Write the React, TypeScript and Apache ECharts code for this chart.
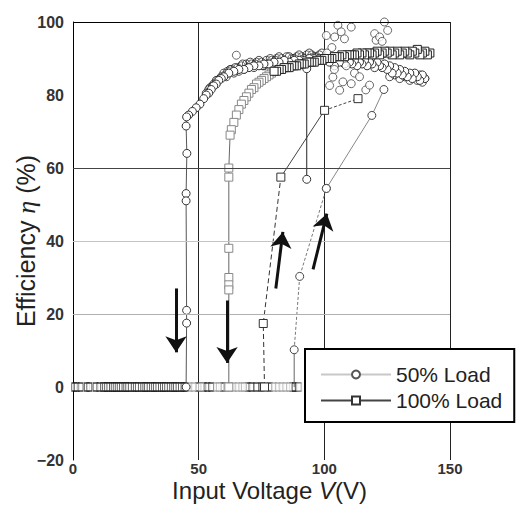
import React, { useEffect, useRef } from "react";
import * as echarts from "echarts";

// ---------- data ----------
const xTicks = [0, 50, 100, 150];
const yTicks = [-20, 0, 20, 40, 60, 80, 100];

// zero-efficiency strip (barcode-like row at eta = 0)
const zeroDarkV = [0.5, 1.5, 3, 5.5, 6.5, 9, 10.5, 12, 12.8, 13.6, 14.5, 15.5, 16.2, 17, 17.8, 18.6, 19.5, 20.5, 21.2, 22, 23, 24.2, 25, 25.8, 27, 28, 28.8, 29.5, 30.5, 31.5, 32.3, 33, 34, 35, 35.8, 36.6, 37.5, 38.5, 39.5, 40.3, 41, 42, 43, 44, 44.8, 49.8, 52, 53.5, 55, 59.6, 69.5, 71, 73, 75, 78.3, 87.2, 88.2, 89.5];
const zeroLightV = [46.5, 48, 51, 57, 58, 61, 62.5, 64, 65.5, 67, 68, 76.5, 80, 81.5, 83, 84.5, 86, 90];

// 50% load, decreasing input voltage
const down50 = [
  [140, 84.5], [139, 85.5], [138, 84], [137, 85], [136, 86], [135, 84.5], [134, 86], [133, 85], [132, 86.5], [131, 85.5],
  [130, 87], [129, 86], [128, 87.5], [127, 86], [126, 88], [125, 87], [124, 88.5], [123, 87.5], [122, 88], [121, 89],
  [120, 87.5], [119, 88.5], [118, 89], [117, 88], [116, 89.5], [115, 88.5], [114, 89], [113, 88], [112, 89.5], [111, 88.5],
  [110, 89], [108, 88.5], [106, 89], [104, 88], [102, 89], [100, 89.5], [98, 90], [96, 90], [94, 90], [92, 89.5],
  [90, 89.5], [88, 89.5], [86, 89], [84, 89.5], [82, 89], [80, 89], [78, 88.5], [76, 88.5], [74, 88], [72, 88],
  [70, 87.5], [68, 87], [66, 87], [64, 86.5], [62, 86], [60, 85], [59, 84.5], [58, 84], [57, 83], [56, 82.5],
  [55, 81.5], [54, 80.5], [53, 80], [52, 79], [50.5, 77.5], [49, 76.5], [47.5, 75.5], [46, 74.5], [45.2, 74], [45, 71.5],
  [45.3, 64], [45, 53], [45, 51], [45.2, 21], [45.2, 17.5], [45, 0]
];
const cloud50 = [
  [53, 80.5], [54.5, 82], [56, 83], [57.5, 84], [59, 85], [60.5, 85.5], [61.5, 86.5], [63, 87], [64, 86], [65.5, 87.5],
  [67, 88], [68, 87], [69, 88.5], [71, 88.5], [72, 87.5], [73, 89], [75, 89], [76, 88], [77, 89.5], [79, 89.5],
  [80, 88.5], [81, 90], [83, 90], [85, 90.5], [87, 90], [89, 90.5], [91, 90.5], [93, 91], [95, 91], [97, 90.5],
  [99, 91.5], [126, 85], [128, 85.5], [130, 84.5], [132, 85], [134, 84], [136, 85], [137, 84], [138, 85.5], [139, 83.5], [140, 84.5],
  [54, 81.5], [55.5, 82.5], [57, 84], [58.5, 84.5], [60, 86], [61, 85], [62.5, 87], [64.5, 87.5], [66, 86.5], [67.5, 88.5],
  [69.5, 87.5], [70.5, 89], [72.5, 88.5], [74, 89.5], [75.5, 88], [77.5, 88.5], [78.5, 90], [80.5, 89.5], [82, 90.5], [84, 89],
  [86, 90.5], [88, 90], [90, 91], [92, 90], [94, 91.5], [96, 90.5], [98, 91]
];
const scatter50 = [
  [100.8, 96.3], [104.1, 95.9], [105.4, 99.1], [106.7, 97.3], [108, 95.4], [110.7, 98.6], [103, 93], [101, 91.5],
  [120, 96.8], [120.6, 95], [122, 95.9], [123, 94.7], [123.9, 100], [125.2, 97.7], [102.1, 82.6], [103.4, 84.9],
  [106.1, 81.3], [107.4, 83.6], [110.7, 83.1], [108.7, 88], [104, 87], [112, 86], [116.5, 81.4], [118, 82.7],
  [114, 85], [65, 90.9]
];
// 50% load, increasing input voltage
const up50Base = [[88, 0], [88, 10.2]];
const up50Low = [[88, 10.2], [90.2, 30.3], [100.8, 54.4]];
const up50High = [[100.8, 54.4], [118.9, 74.4], [123.7, 81.5]];
const drop50 = [[93, 87.2], [93, 56.9]];

// 100% load, decreasing input voltage
const down100Top = [
  [142, 91.5], [141, 91], [140, 92], [139, 91.5], [138, 91], [137, 92.5], [136, 91.5], [135, 92], [134, 91], [133, 91.5],
  [132, 92], [131, 91.5], [130, 91], [129, 92], [128, 91.5], [127, 91], [126, 92], [125, 91.5], [124, 92], [123, 91.5],
  [122, 91], [121, 92], [120, 91.5], [119, 91], [118, 91.5], [117, 91.5], [116, 91], [115, 91.5], [114, 91], [113, 91.5],
  [112, 91], [111, 91], [110, 91], [109, 91], [108, 90.5], [107, 91], [106, 90.5], [105, 90.5], [104, 90.5], [103, 90],
  [102, 90], [101, 90], [100, 90], [99, 89.5], [98, 89.5], [97, 89.5], [96, 89], [95, 89], [94, 89], [93, 89],
  [92, 88.5], [91, 88.5], [90, 88.5], [89, 88], [88, 88], [87, 88], [86, 87.5], [85, 87.5], [84, 87.5], [83, 87],
  [82, 87], [81, 86.5], [80, 86.5]
];
const down100Low = [
  [80, 86.5], [79, 86], [78, 85.5], [77, 85], [76, 84.5], [75, 84], [74, 83.5], [73, 83], [72, 82], [71, 81.5],
  [70, 80.5], [69, 79.5], [68, 78.5], [67, 77.5], [66, 76], [65, 74.5], [64, 72.5], [63, 70.5], [62.5, 69], [62, 60],
  [62, 57.5], [62, 38], [62, 30], [62, 28], [62, 26.6], [62, 0]
];
// 100% load, increasing input voltage
const up100Low = [[76.2, 0], [75.7, 17.4], [82.7, 57.5]];
const up100Mid = [[82.7, 57.5], [100.1, 75.8]];
const up100High = [[100.1, 75.8], [113.4, 79]];

// direction arrows [start, end]
const arrows = [
  [[41, 27], [41, 9.5]],
  [[61.3, 23.7], [61.3, 6.6]],
  [[80.7, 27], [83.5, 42.5]],
  [[95.5, 32.2], [101, 47.5]]
];

const legendNames = ["50% Load", "100% Load"];

const FONT = "'Liberation Sans', Arial, sans-serif";

export default function App() {
  const ref = useRef<HTMLDivElement>(null);

  useEffect(() => {
    if (!ref.current) return;
    const chart = echarts.init(ref.current, null, { renderer: "svg" });

    const circleStyle = (c: string) => ({ color: "#fff", borderColor: c, borderWidth: 1 });

    const lineSeries = (data: number[][], symbol: string, lineColor: string, lineType: any, markerColor: string, z = 3, width = 1) => ({
      type: "line",
      data,
      symbol,
      symbolSize: 8,
      itemStyle: circleStyle(markerColor),
      lineStyle: { color: lineColor, width, type: lineType },
      z,
      silent: true,
    });

    const option: any = {
      animation: false,
      backgroundColor: "#fff",
      grid: { left: 73, right: 70, top: 22, bottom: 45, outerBoundsMode: "none", containLabel: false },
      legend: {
        data: legendNames,
        orient: "vertical",
        left: 305,
        top: 349,
        itemWidth: 70,
        itemHeight: 10,
        itemGap: 5,
        padding: [15, 12, 11, 15],
        borderColor: "#000",
        borderWidth: 2,
        backgroundColor: "#fff",
        textStyle: { fontSize: 21, fontFamily: FONT, color: "#222" },
        selectedMode: false,
        z: 20,
      },
      xAxis: {
        type: "value",
        min: xTicks[0],
        max: xTicks[xTicks.length - 1],
        interval: 50,
        axisLine: { show: false },
        axisTick: { show: false },
        axisLabel: { margin: 1, fontSize: 15, fontWeight: "bold", color: "#333", fontFamily: FONT },
        splitLine: { show: true, lineStyle: { color: "#222", width: 1 } },
        name: "Input Voltage {i|V}(V)",
        nameLocation: "middle",
        nameGap: 18,
        nameMoveOverlap: false,
        nameTextStyle: {
          fontSize: 24,
          fontFamily: FONT,
          color: "#222",
          padding: [0, 0, 0, 16],
          rich: { i: { fontSize: 24, fontFamily: FONT, fontStyle: "italic", color: "#222" } },
        },
      },
      yAxis: {
        type: "value",
        min: yTicks[0],
        max: yTicks[yTicks.length - 1],
        interval: 20,
        axisLine: { show: true, lineStyle: { color: "#000", width: 1 } },
        axisTick: { show: false },
        axisLabel: {
          margin: 9,
          fontSize: 16,
          fontWeight: "bold",
          color: "#333",
          fontFamily: FONT,
          formatter: (v: number) => String(v).replace("-", "\u2212"),
        },
        splitLine: { show: false },
        name: "Efficiency {i|\u03b7} (%)",
        nameLocation: "middle",
        nameGap: 34,
        nameMoveOverlap: false,
        nameTextStyle: {
          fontSize: 25,
          fontFamily: FONT,
          color: "#222",
          rich: { i: { fontSize: 26, fontFamily: "'Liberation Serif', serif", fontStyle: "italic", color: "#222" } },
        },
      },
      series: [
        // horizontal grid lines + top border
        {
          type: "line",
          data: [],
          z: 1,
          silent: true,
          markLine: {
            silent: true,
            symbol: ["none", "none"],
            label: { show: false },
            animation: false,
            data: [
              { yAxis: 20, lineStyle: { color: "#b0b0b0", width: 1, type: "solid" } },
              { yAxis: 40, lineStyle: { color: "#c4c4c4", width: 1, type: "solid" } },
              { yAxis: 60, lineStyle: { color: "#444", width: 1, type: "solid" } },
              { yAxis: 100, lineStyle: { color: "#000", width: 1, type: "solid" } },
            ],
          },
        },
        // zero strip
        {
          type: "scatter",
          data: zeroDarkV.map((v) => [v, 0]),
          symbol: "rect",
          symbolSize: [5, 8],
          itemStyle: { color: "#fff", borderColor: "#111", borderWidth: 1 },
          z: 2,
          silent: true,
        },
        {
          type: "scatter",
          data: zeroLightV.map((v) => [v, 0]),
          symbol: "rect",
          symbolSize: [5, 8],
          itemStyle: { color: "#fff", borderColor: "#999", borderWidth: 1 },
          z: 2,
          silent: true,
        },
        // 50% load
        lineSeries(up50Base, "none", "#666", "solid", "#444"),
        lineSeries(up50Low, "circle", "#777", [3, 2], "#444"),
        lineSeries(up50High, "circle", "#888", "solid", "#444"),
        lineSeries(drop50, "circle", "#222", "solid", "#333"),
        {
          type: "scatter",
          data: cloud50,
          symbol: "circle",
          symbolSize: 8,
          itemStyle: { color: "rgba(255,255,255,0.15)", borderColor: "#222", borderWidth: 1 },
          z: 3,
          silent: true,
        },
        lineSeries(down50, "circle", "#555", "solid", "#333"),
        {
          type: "scatter",
          data: scatter50,
          symbol: "circle",
          symbolSize: 8,
          itemStyle: circleStyle("#444"),
          z: 3,
          silent: true,
        },
        // 100% load
        lineSeries(up100Low, "rect", "#333", [5, 3], "#333", 4),
        lineSeries(up100Mid, "none", "#444", "solid", "#333", 4),
        lineSeries(up100High, "rect", "#444", [3, 2], "#333", 4),
        lineSeries(down100Low, "rect", "#666", "solid", "#888", 4),
        lineSeries(down100Top, "rect", "#333", "solid", "#222", 4),
        // arrows
        {
          type: "line",
          data: [],
          z: 6,
          silent: true,
          markLine: {
            silent: true,
            symbol: ["none", "arrow"],
            symbolSize: 16,
            label: { show: false },
            lineStyle: { color: "#111", width: 3, type: "solid" },
            itemStyle: { color: "#111" },
            data: arrows.map(([a, b]) => [{ coord: a }, { coord: b }]),
          },
        },
        // legend entries
        {
          name: legendNames[0],
          type: "line",
          data: [],
          symbol: "circle",
          symbolSize: 8,
          itemStyle: { color: "#fff", borderColor: "#555", borderWidth: 1 },
          lineStyle: { color: "#c8c8c8", width: 1 },
        },
        {
          name: legendNames[1],
          type: "line",
          data: [],
          symbol: "rect",
          symbolSize: 8,
          itemStyle: { color: "#fff", borderColor: "#333", borderWidth: 1 },
          lineStyle: { color: "#444", width: 1 },
        },
      ],
    };

    chart.setOption(option);
    return () => chart.dispose();
  }, []);

  return <div ref={ref} style={{ width: 520, height: 505, position: "absolute", left: 0, top: 0 }} />;
}
